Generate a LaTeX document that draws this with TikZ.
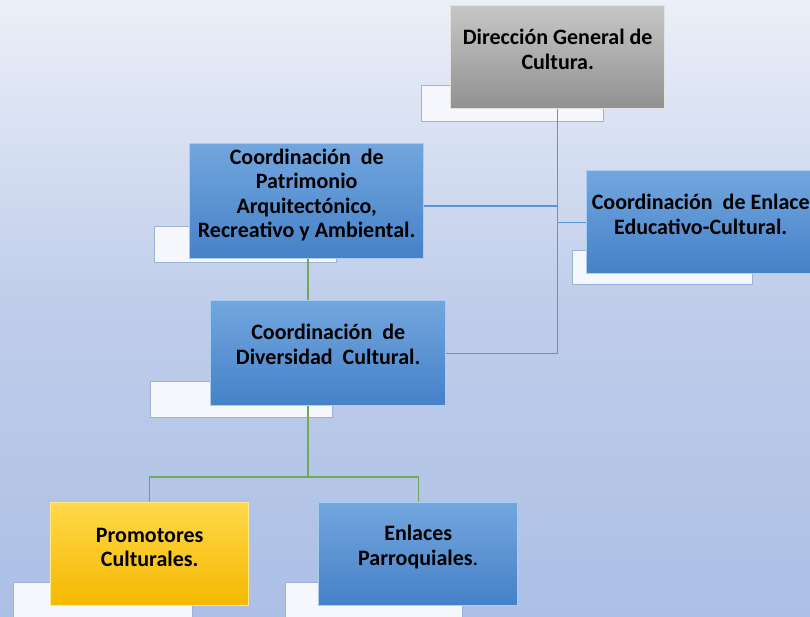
\documentclass[tikz,border=0pt]{standalone}
\usepackage{fontspec}
\setmainfont{Carlito}
\definecolor{bgtop}{HTML}{EBEFF8}
\definecolor{bgmid}{HTML}{BFCDEA}
\definecolor{bgbot}{HTML}{ACBFE5}
\definecolor{bluetop}{HTML}{72A6DE}
\definecolor{bluebot}{HTML}{4581C8}
\definecolor{blueedge}{HTML}{A9CDF2}
\definecolor{graytop}{HTML}{C6C6C6}
\definecolor{graybot}{HTML}{919191}
\definecolor{grayedge}{HTML}{E2E2E2}
\definecolor{yeltop}{HTML}{FFD84A}
\definecolor{yelbot}{HTML}{F4B800}
\definecolor{yeledge}{HTML}{FFE98A}
\definecolor{subfill}{HTML}{F5F7FC}
\definecolor{subedge}{HTML}{9DB3D6}
\definecolor{lineblue}{HTML}{5B95D3}
\definecolor{linegreen}{HTML}{72A85A}
\tikzset{
  orgbox/.style={rectangle, inner sep=0pt, anchor=north west, line width=1.4pt},
  bluebox/.style={orgbox, top color=bluetop, bottom color=bluebot, draw=blueedge},
  graybox/.style={orgbox, top color=graytop, bottom color=graybot, draw=grayedge},
  yelbox/.style={orgbox, top color=yeltop, bottom color=yelbot, draw=yeledge},
  subbox/.style={rectangle, inner sep=0pt, anchor=north west, fill=subfill, draw=subedge, line width=0.8pt},
  lbl/.style={align=center, font=\fontsize{22}{24.5}\selectfont\bfseries, text=black, inner sep=0pt},
  bline/.style={draw=lineblue, line width=1.3pt},
  gline/.style={draw=linegreen, line width=1.3pt}
}
\begin{document}
\begin{tikzpicture}[x=1pt,y=-1pt]
\useasboundingbox (0,0) rectangle (810,617);
\clip (0,0) rectangle (810,617);
% background
\shade[top color=bgtop, bottom color=bgbot, middle color=bgmid] (0,0) rectangle (810,617);
% white sub-boxes
\node[subbox, minimum width=182pt, minimum height=36pt] (s1) at (421,85) {};
\node[subbox, minimum width=182pt, minimum height=36pt] (s2) at (154,226) {};
\node[subbox, minimum width=180pt, minimum height=34pt] (s3) at (572,250) {};
\node[subbox, minimum width=182pt, minimum height=36pt] (s4) at (150,381) {};
\node[subbox, minimum width=179pt, minimum height=40pt] (s5) at (13,582) {};
\node[subbox, minimum width=177pt, minimum height=40pt] (s6) at (285,582) {};
% connector helpers
\coordinate (jp) at (557,206);
\coordinate (g1) at (308,477);
% main boxes (placed first for anchors, redrawn above connectors)
\node[graybox, minimum width=214pt, minimum height=103pt] (dg) at (450,5) {};
\node[bluebox, minimum width=234pt, minimum height=115pt] (pa) at (189,143) {};
\node[bluebox, minimum width=230pt, minimum height=103pt] (ee) at (586,170) {};
\node[bluebox, minimum width=235pt, minimum height=105pt] (dv) at (210,300) {};
\node[yelbox, minimum width=198pt, minimum height=103pt] (pr) at (50,502) {};
\node[bluebox, minimum width=199pt, minimum height=103pt] (ep) at (318,502) {};
% connectors
\draw[bline] (dg.south) -- (dv.east -| dg.south);
\draw[bline] (jp -| pa.east) -- (jp);
\draw[bline] (ee.west) -- (ee.west -| dg.south);
\draw[bline] (dv.east) -- (dv.east -| dg.south);
\draw[gline] (g1 |- pa.south) -- (g1 |- dv.north);
\draw[gline] (g1 |- dv.south) -- (g1);
\draw[gline] (pr.north) |- (g1) -| (ep.north);
% redraw boxes on top
\node[graybox, minimum width=214pt, minimum height=103pt] at (450,5) {};
\node[bluebox, minimum width=234pt, minimum height=115pt] at (189,143) {};
\node[bluebox, minimum width=230pt, minimum height=103pt] at (586,170) {};
\node[bluebox, minimum width=235pt, minimum height=105pt] at (210,300) {};
\node[yelbox, minimum width=198pt, minimum height=103pt] at (50,502) {};
\node[bluebox, minimum width=199pt, minimum height=103pt] at (318,502) {};
% labels
\node[lbl] (tdg) at ([yshift=8pt]dg.center) {Dirección General de\\Cultura.};
\node[lbl] (tpa) at ([yshift=6pt]pa.center) {Coordinación\ \ de\\Patrimonio\\Arquitectónico,\\Recreativo y Ambiental.};
\node[lbl] (tee) at ([xshift=-1pt,yshift=8pt]ee.center) {Coordinación\ \ de Enlace\\Educativo-Cultural.};
\node[lbl] (tdv) at ([yshift=9pt]dv.center) {Coordinación\ \ de\\Diversidad\ \ Cultural.};
\node[lbl] (tpr) at ([yshift=7pt]pr.center) {Promotores\\Culturales.};
\node[lbl] (tep) at ([yshift=7pt]ep.center) {Enlaces\\Parroquiales\textmd{.}};
\end{tikzpicture}
\end{document}
